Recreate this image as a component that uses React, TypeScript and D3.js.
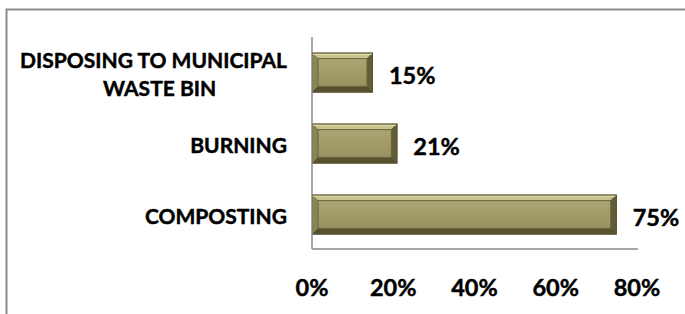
import React, { useEffect, useRef } from "react";
import * as d3 from "d3";

// categories from top to bottom, with wrapped lines for the long one
const categories = ["DISPOSING TO MUNICIPAL WASTE BIN", "BURNING", "COMPOSTING"];
const categoryLines = [["DISPOSING TO MUNICIPAL", "WASTE BIN"], ["BURNING"], ["COMPOSTING"]];
const values = [15, 21, 75];
const tickValues = [0, 20, 40, 60, 80];

const W = 685, H = 314;
const FONT = "Lato, 'Open Sans', sans-serif";

export default function App() {
  const ref = useRef<SVGSVGElement>(null);

  useEffect(() => {
    const svg = d3.select(ref.current);
    svg.selectAll("*").remove();

    const x = d3.scaleLinear().domain([0, 80]).range([312, 637]);
    const y = d3.scaleBand<string>()
      .domain(categories)
      .range([37, 250])
      .paddingInner(0.44)
      .paddingOuter(0.22);

    // gradient for the bar face
    const defs = svg.append("defs");
    const g = defs.append("linearGradient")
      .attr("id", "face").attr("x1", 0).attr("y1", 0).attr("x2", 0).attr("y2", 1);
    g.append("stop").attr("offset", "0%").attr("stop-color", "#aaa573");
    g.append("stop").attr("offset", "50%").attr("stop-color", "#a19c67");
    g.append("stop").attr("offset", "100%").attr("stop-color", "#969160");

    // chart frame (top + left only)
    svg.append("path")
      .attr("d", `M6.5,${H} V9.5 H${W}`)
      .attr("fill", "none")
      .attr("stroke", "#8a8a8a")
      .attr("stroke-width", 2);

    // bars with bevel
    const bev = 6;
    const bars = svg.append("g");
    categories.forEach((c, i) => {
      const x0 = x(0), x1 = x(values[i]);
      const y0 = y(c)!, y1 = y0 + y.bandwidth();
      const gb = bars.append("g");
      gb.append("rect")
        .attr("x", x0).attr("y", y0)
        .attr("width", x1 - x0).attr("height", y1 - y0)
        .attr("fill", "#4d4828");
      gb.append("polygon")
        .attr("points", [[x0, y0], [x1, y0], [x1 - bev, y0 + bev], [x0 + bev, y0 + bev]].join(" "))
        .attr("fill", "#c8c38d");
      gb.append("polygon")
        .attr("points", [[x0, y0], [x0 + bev, y0 + bev], [x0 + bev, y1 - bev], [x0, y1]].join(" "))
        .attr("fill", "#8a8552");
      gb.append("polygon")
        .attr("points", [[x1, y0], [x1, y1], [x1 - bev, y1 - bev], [x1 - bev, y0 + bev]].join(" "))
        .attr("fill", "#625d35");
      gb.append("polygon")
        .attr("points", [[x0, y1], [x1, y1], [x1 - bev, y1 - bev], [x0 + bev, y1 - bev]].join(" "))
        .attr("fill", "#57522d");
      gb.append("rect")
        .attr("x", x0 + bev).attr("y", y0 + bev)
        .attr("width", Math.max(0, x1 - x0 - 2 * bev)).attr("height", y1 - y0 - 2 * bev)
        .attr("fill", "url(#face)")
        .attr("stroke", "#6b663d").attr("stroke-width", 1);
      gb.append("line")
        .attr("x1", x0 + 1).attr("x2", x1 - 1)
        .attr("y1", y0 + 1.5).attr("y2", y0 + 1.5)
        .attr("stroke", "#e4e0b8").attr("stroke-width", 1.5);
      gb.append("rect")
        .attr("x", x0 + 0.5).attr("y", y0 + 0.5)
        .attr("width", x1 - x0 - 1).attr("height", y1 - y0 - 1)
        .attr("fill", "none").attr("stroke", "#5a5530").attr("stroke-width", 1);
    });

    // axis lines
    svg.append("line")
      .attr("x1", x(0)).attr("x2", x(0))
      .attr("y1", 37).attr("y2", 249)
      .attr("stroke", "#8a8a8a").attr("stroke-width", 1.5);
    svg.append("line")
      .attr("x1", x(0)).attr("x2", x(80) + 1)
      .attr("y1", 249).attr("y2", 249)
      .attr("stroke", "#8a8a8a").attr("stroke-width", 1.5);

    const boldText = (sel: any, size: number) =>
      sel.attr("font-family", FONT)
        .attr("font-weight", "bold")
        .attr("font-size", size)
        .attr("fill", "#000")
        .attr("stroke", "#000")
        .attr("stroke-width", 0.45)
        .attr("dominant-baseline", "central");

    // tick labels
    svg.append("g").selectAll("text")
      .data(tickValues)
      .join("text")
      .attr("x", (d) => x(d))
      .attr("y", 287)
      .attr("text-anchor", "middle")
      .call(boldText, 23.5)
      .text((d) => d + "%");

    // value labels
    svg.append("g").selectAll("text")
      .data(values)
      .join("text")
      .attr("x", (d) => x(d) + 16)
      .attr("y", (d, i) => y(categories[i])! + y.bandwidth() / 2 + 2)
      .call(boldText, 23.5)
      .text((d) => d + "%");

    // category labels, wrapped lines centred on the first line
    const labelRight = 287;
    categoryLines.forEach((lines, i) => {
      const cy = y(categories[i])! + y.bandwidth() / 2 + 1;
      const lh = 28;
      const first = svg.append("text")
        .attr("x", labelRight)
        .attr("y", cy - ((lines.length - 1) * lh) / 2)
        .attr("text-anchor", "end")
        .call(boldText, 21)
        .text(lines[0]);
      const w = (first.node() as SVGTextElement).getComputedTextLength();
      lines.slice(1).forEach((ln, j) => {
        svg.append("text")
          .attr("x", labelRight - w / 2 + 6)
          .attr("y", cy - ((lines.length - 1) * lh) / 2 + (j + 1) * lh)
          .attr("text-anchor", "middle")
          .call(boldText, 21)
          .text(ln);
      });
    });
  }, []);

  return (
    <svg
      ref={ref}
      width={W}
      height={H}
      style={{ position: "absolute", left: 0, top: 0, background: "#fff" }}
    />
  );
}
